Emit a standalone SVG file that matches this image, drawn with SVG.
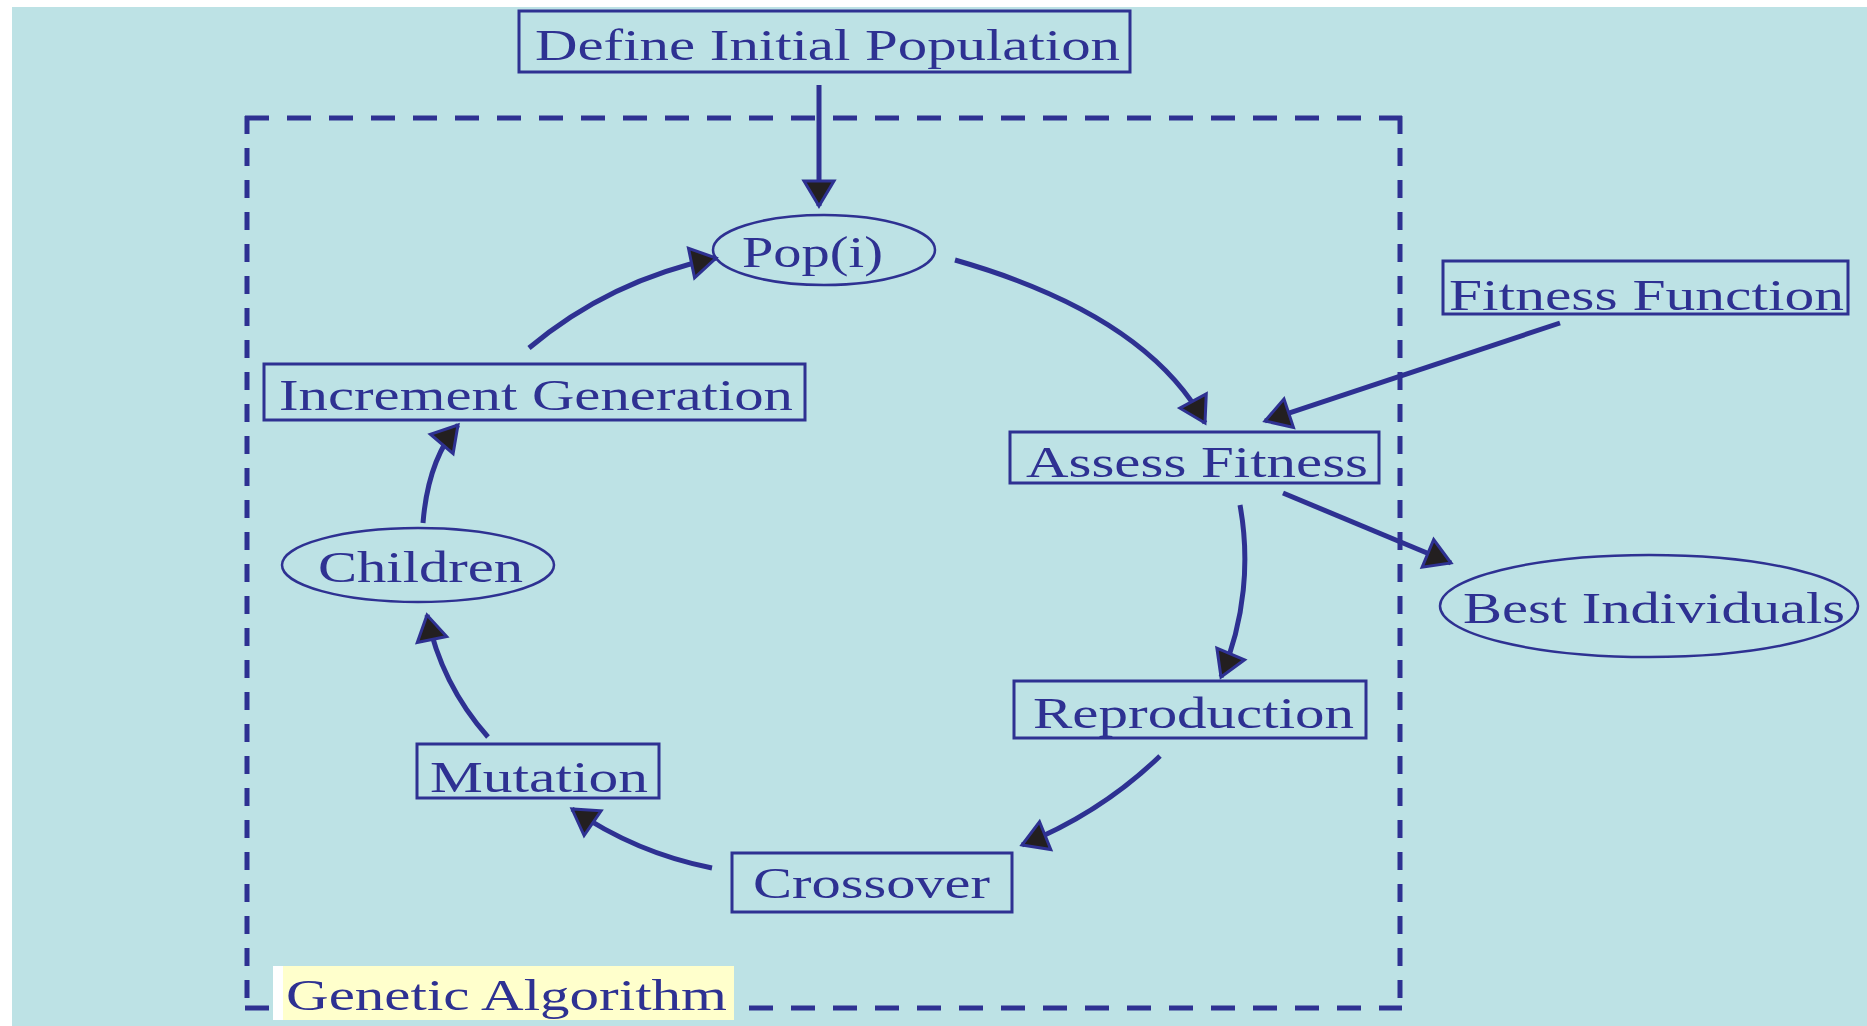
<svg xmlns="http://www.w3.org/2000/svg" width="1867" height="1026" viewBox="0 0 1867 1026">
<style>
  .box { fill: none; stroke: #2E3192; stroke-width: 3; }
  .ell { fill: none; stroke: #2E3192; stroke-width: 2.5; }
  .lbl { font-family: "Liberation Serif", "Times New Roman", serif; font-size: 45px; fill: #2E3192; }
  .con { fill: none; stroke: #2E3192; stroke-width: 5; marker-end: url(#ah); }
  .dashh { stroke: #2E3192; stroke-width: 5; stroke-dasharray: 24 18; }
  .dashv { stroke: #2E3192; stroke-width: 5; stroke-dasharray: 18 14; }
</style>
<defs>
  <marker id="ah" markerUnits="userSpaceOnUse" markerWidth="44" markerHeight="44" viewBox="0 0 44 44" refX="34" refY="22" orient="auto" overflow="visible">
    <path d="M34,22 L9,7 L9,37 Z" fill="#231F20" stroke="#2E3192" stroke-width="3" stroke-linejoin="miter"/>
  </marker>
</defs>
<rect x="0" y="0" width="1867" height="1026" fill="#FFFFFF"/>
<rect x="12" y="7" width="1855" height="1019" fill="#BDE2E5"/>

<g id="genetic-algorithm-frame">
  <line class="dashh" x1="245" y1="118" x2="1402" y2="118"/>
  <line class="dashh" x1="245" y1="1008" x2="1402" y2="1008"/>
  <line class="dashv" x1="247" y1="116" x2="247" y2="1010"/>
  <line class="dashv" x1="1400" y1="116" x2="1400" y2="1010"/>
  <rect x="273" y="966" width="10" height="54" fill="#FFFFFF"/>
  <rect x="283" y="966" width="451" height="54" fill="#FFFFCC"/>
  <text class="lbl" x="286" y="1010" textLength="441" lengthAdjust="spacingAndGlyphs">Genetic Algorithm</text>
</g>

<g id="connectors">
  <path class="con" d="M819,85 L819,206"/>
  <path class="con" d="M955,260 C1060,290 1160,340 1205,423"/>
  <path class="con" d="M1560,323 L1265,421"/>
  <path class="con" d="M1283,493 L1451,563"/>
  <path class="con" d="M1240,505 C1250,560 1245,620 1221,677"/>
  <path class="con" d="M1160,756 Q1101,813 1022,845"/>
  <path class="con" d="M712,868 Q636,853 572,809"/>
  <path class="con" d="M488,737 Q441,684 427,615"/>
  <path class="con" d="M423,523 Q428,460 458,425"/>
  <path class="con" d="M529,348 Q610,280 716,258"/>
</g>

<g id="define-initial-population">
  <rect class="box" x="519" y="11" width="611" height="61"/>
  <text class="lbl" x="535" y="60" textLength="585" lengthAdjust="spacingAndGlyphs">Define Initial Population</text>
</g>
<g id="pop-i">
  <ellipse class="ell" cx="824" cy="250" rx="111" ry="35"/>
  <text class="lbl" x="742" y="267" textLength="141" lengthAdjust="spacingAndGlyphs">Pop(i)</text>
</g>
<g id="fitness-function">
  <rect class="box" x="1443" y="261" width="405" height="53"/>
  <text class="lbl" x="1449" y="310" textLength="395" lengthAdjust="spacingAndGlyphs">Fitness Function</text>
</g>
<g id="assess-fitness">
  <rect class="box" x="1010" y="432" width="369" height="51"/>
  <text class="lbl" x="1026" y="477" textLength="342" lengthAdjust="spacingAndGlyphs">Assess Fitness</text>
</g>
<g id="best-individuals">
  <ellipse class="ell" cx="1649" cy="606" rx="209" ry="51"/>
  <text class="lbl" x="1463" y="623" textLength="382" lengthAdjust="spacingAndGlyphs">Best Individuals</text>
</g>
<g id="reproduction">
  <rect class="box" x="1014" y="681" width="352" height="57"/>
  <text class="lbl" x="1033" y="728" textLength="321" lengthAdjust="spacingAndGlyphs">Reproduction</text>
</g>
<g id="crossover">
  <rect class="box" x="732" y="853" width="280" height="59"/>
  <text class="lbl" x="753" y="898" textLength="237" lengthAdjust="spacingAndGlyphs">Crossover</text>
</g>
<g id="mutation">
  <rect class="box" x="417" y="744" width="242" height="54"/>
  <text class="lbl" x="430" y="792" textLength="218" lengthAdjust="spacingAndGlyphs">Mutation</text>
</g>
<g id="children">
  <ellipse class="ell" cx="418" cy="565" rx="136" ry="37"/>
  <text class="lbl" x="318" y="582" textLength="205" lengthAdjust="spacingAndGlyphs">Children</text>
</g>
<g id="increment-generation">
  <rect class="box" x="264" y="364" width="541" height="56"/>
  <text class="lbl" x="279" y="410" textLength="514" lengthAdjust="spacingAndGlyphs">Increment Generation</text>
</g>
</svg>
